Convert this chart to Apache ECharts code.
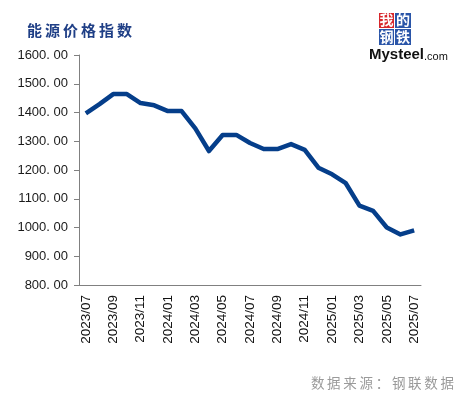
<!DOCTYPE html>
<html>
<head>
<meta charset="utf-8">
<script src="https://cdn.jsdelivr.net/npm/echarts@6/dist/echarts.min.js"></script>
<style>
  html, body { margin: 0; padding: 0; background: #fff; }
  #energyIndex { width: 458px; height: 397px; }
</style>
</head>
<body>
<div id="energyIndex"></div>
<script>
// 月份
var months = [
  "2023/07", "2023/08", "2023/09", "2023/10", "2023/11", "2023/12",
  "2024/01", "2024/02", "2024/03", "2024/04", "2024/05", "2024/06",
  "2024/07", "2024/08", "2024/09", "2024/10", "2024/11", "2024/12",
  "2025/01", "2025/02", "2025/03", "2025/04", "2025/05", "2025/06", "2025/07"
];
// 能源价格指数
var indexValues = [
  1397, 1429, 1464, 1464, 1433, 1425,
  1405, 1405, 1345, 1266, 1322, 1322,
  1294, 1273, 1273, 1290, 1270, 1208,
  1185, 1154, 1076, 1058, 1000, 976, 990
];
var yMin = 800;
var yMax = 1600;
var yStep = 100;

var chart = echarts.init(document.getElementById("energyIndex"));
chart.setOption({
  animation: false,
  backgroundColor: "#fff",
  title: {
    text: "能\u2009源\u2009价\u2009格\u2009指\u2009数",
    left: 22,
    top: 18,
    textStyle: {
      color: "#1f3f86",
      fontSize: 15,
      fontWeight: "bold",
      fontFamily: "Noto Sans CJK SC",
    },
  },
  grid: { left: 79, right: 37, top: 55, bottom: 112 },
  xAxis: {
    type: "category",
    data: months,
    boundaryGap: true,
    axisLine: { lineStyle: { color: "#808080", width: 1 } },
    axisTick: { interval: 1, length: 5, lineStyle: { color: "#808080" } },
    axisLabel: {
      interval: 1,
      rotate: 90,
      margin: 10,
      color: "#111",
      fontSize: 13.5,
      fontFamily: "Liberation Sans",
    },
  },
  yAxis: {
    type: "value",
    min: yMin,
    max: yMax,
    interval: yStep,
    splitLine: { show: false },
    axisLine: { show: true, lineStyle: { color: "#808080", width: 1 } },
    axisTick: { show: true, length: 5, lineStyle: { color: "#808080" } },
    axisLabel: {
      margin: 11,
      color: "#1a1a1a",
      fontSize: 13,
      fontFamily: "Liberation Sans",
      formatter: function (v) {
        return v.toFixed(2).replace(".", ". ");
      },
    },
  },
  series: [
    {
      type: "line",
      data: indexValues,
      symbol: "none",
      lineStyle: { color: "#053e8a", width: 4.5, join: "round" },
    },
  ],
  graphic: [
    // Mysteel 标志
    { type: "rect", left: 379, top: 13, shape: { width: 15, height: 15 }, style: { fill: "#d7262b" } },
    { type: "rect", left: 395, top: 13, shape: { width: 16, height: 15 }, style: { fill: "#2a55a8" } },
    { type: "rect", left: 379, top: 29, shape: { width: 15, height: 16 }, style: { fill: "#2a55a8" } },
    { type: "rect", left: 395, top: 29, shape: { width: 16, height: 16 }, style: { fill: "#2a55a8" } },
    { type: "text", left: 379.5, top: 12.5, style: { text: "我", fill: "#fff", fontSize: 14, fontWeight: "bold", fontFamily: "Noto Sans CJK SC" } },
    { type: "text", left: 396, top: 12.5, style: { text: "的", fill: "#fff", fontSize: 14, fontWeight: "bold", fontFamily: "Noto Sans CJK SC" } },
    { type: "text", left: 379.5, top: 29.5, style: { text: "钢", fill: "#fff", fontSize: 14, fontWeight: "bold", fontFamily: "Noto Sans CJK SC" } },
    { type: "text", left: 396, top: 29.5, style: { text: "铁", fill: "#fff", fontSize: 14, fontWeight: "bold", fontFamily: "Noto Sans CJK SC" } },
    { type: "text", left: 369, top: 47, style: { text: "Mysteel", fill: "#111", fontSize: 15, fontWeight: "bold", fontFamily: "Liberation Sans" } },
    { type: "text", left: 424, top: 51, style: { text: ".com", fill: "#111", fontSize: 11, fontFamily: "Liberation Sans" } },
    // 数据来源
    {
      type: "text",
      right: 4,
      top: 376,
      style: {
        text: "数\u2009据\u2009来\u2009源\u2009：\u2009钢\u2009联\u2009数\u2009据",
        fill: "#9a9a9a",
        fontSize: 13.5,
        fontFamily: "Noto Sans CJK SC",
      },
    },
  ],
});
</script>
</body>
</html>
